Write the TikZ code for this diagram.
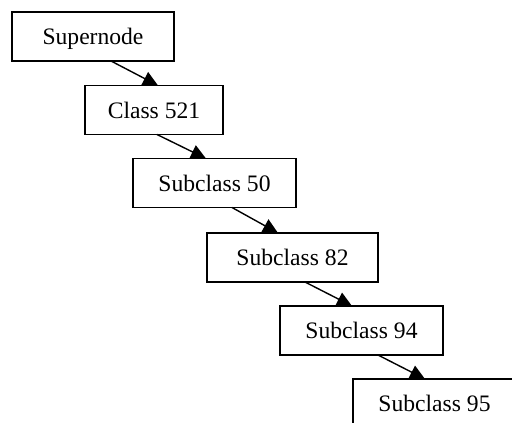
\documentclass[tikz,border=0pt]{standalone}
\usepackage{fontspec}
\setmainfont{Liberation Serif}
\usetikzlibrary{arrows.meta,calc}

\tikzset{
  classbox/.style={draw, line width=1.6pt, fill=white, inner sep=0pt, outer sep=0pt,
    minimum height=49pt, text height=16pt, text depth=0pt,
    font=\fontsize{23.6pt}{28pt}\selectfont},
  link/.style={line width=1.4pt, -{Triangle[length=15pt,width=14.5pt]}}
}

\begin{document}
\begin{tikzpicture}[x=1pt,y=-1pt]
  \useasboundingbox (0,0) rectangle (512,423);
  \clip (0,0) rectangle (512,423);

  % the hierarchy, one box per level
  \node[classbox, minimum width=162pt] (super) at (93,36.5)   {Supernode};
  \node[classbox, minimum width=138pt] (c521)  at (154,110)   {Class 521};
  \node[classbox, minimum width=163pt] (s50)   at (214.5,183) {Subclass 50};
  \node[classbox, minimum width=171pt] (s82)   at (292.5,257.5) {Subclass 82};
  \node[classbox, minimum width=163pt] (s94)   at (361.5,330.5) {Subclass 94};
  \node[classbox, minimum width=163pt] (s95)   at (434.5,403.5) {Subclass 95};

  % links between consecutive levels
  \draw[link] ($(super.south west)+(99pt,0)$) -- ($(c521.north west)+(73pt,0)$);
  \draw[link] ($(c521.south west)+(72pt,0)$)  -- ($(s50.north west)+(73pt,0)$);
  \draw[link] ($(s50.south west)+(99pt,0)$)   -- ($(s82.north west)+(71pt,0)$);
  \draw[link] ($(s82.south west)+(98pt,0)$)   -- ($(s94.north west)+(72pt,0)$);
  \draw[link] ($(s94.south west)+(98pt,0)$)   -- ($(s95.north west)+(72pt,0)$);
\end{tikzpicture}
\end{document}
